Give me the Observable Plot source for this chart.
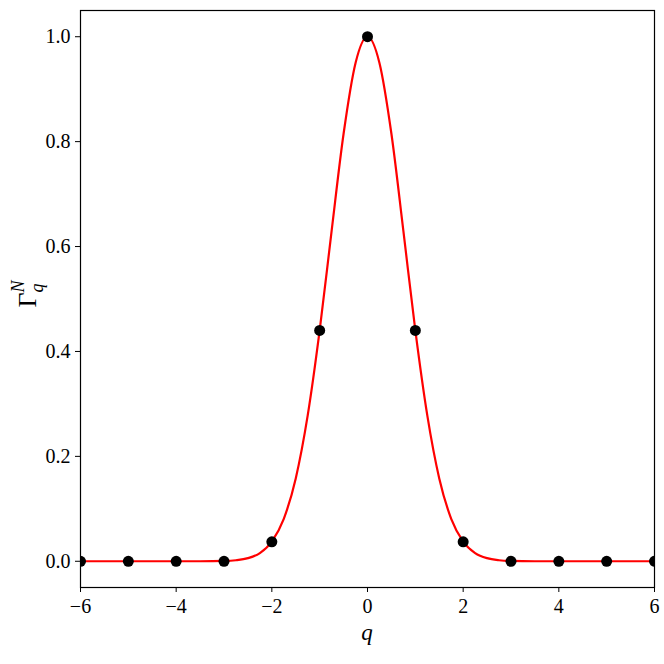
<!DOCTYPE html>
<html><head>
<meta charset="utf-8">
<script src="https://cdn.jsdelivr.net/npm/d3@7"></script>
<script src="https://cdn.jsdelivr.net/npm/@observablehq/plot@0.6"></script>
<style>body{margin:0;background:#fff}</style>
</head><body><div id="chart"></div>
<script>
const pointQ = [-6,-5,-4,-3,-2,-1,0,1,2,3,4,5,6];
const pointG = [0,0,0,0,0.037,0.44,1,0.44,0.037,0,0,0,0];
const curveQ = [-6,-5,-4,-3.5,-3,-2.75,-2.5,-2.25,-2,-1.75,-1.5,-1.25,-1,-0.75,-0.5,-0.25,0,0.25,0.5,0.75,1,1.25,1.5,1.75,2,2.25,2.5,2.75,3,3.5,4,5,6];
const curveG = [0,0,0,0.00005,0.0006,0.002,0.0059,0.0157,0.0376,0.081,0.158,0.278,0.44,0.63,0.815,0.95,1,0.95,0.815,0.63,0.44,0.278,0.158,0.081,0.0376,0.0157,0.0059,0.002,0.0006,0.00005,0,0,0];
const xTicks = [-6,-4,-2,0,2,4,6];
const yTicks = [0,0.2,0.4,0.6,0.8,1.0];

const points = pointQ.map((q,i)=>({q, g: pointG[i]}));
const curve = curveQ.map((q,i)=>({q, g: curveG[i]}));
const font = "'Liberation Serif', 'DejaVu Serif', serif";

const chart = Plot.plot({
  width: 664, height: 664,
  marginLeft: 80, marginRight: 10, marginTop: 10, marginBottom: 77,
  style: {fontFamily: font, fontSize: "20px", color: "black", background: "white"},
  x: {domain: [-6, 6], ticks: xTicks, tickFormat: d => d < 0 ? "\u2212" + Math.abs(d) : String(d), label: null, tickSize: 5, tickPadding: 6},
  y: {domain: [-0.05, 1.05], ticks: yTicks, tickFormat: d => d.toFixed(1), label: null, tickSize: 5, tickPadding: 5},
  marks: [
    Plot.line(curve, {x: "q", y: "g", stroke: "#ff0000", strokeWidth: 2.2, curve: "monotone-x", clip: true}),
    Plot.dot(points, {x: "q", y: "g", r: 5.5, fill: "black", stroke: "none", clip: true}),
    Plot.frame({stroke: "black", strokeWidth: 1.2})
  ]
});
document.getElementById("chart").appendChild(chart);

const svg = d3.select(chart);
svg.append("text")
  .attr("x", 367).attr("y", 640)
  .attr("text-anchor", "middle")
  .style("font-family", font).style("font-size", "23px").style("font-style", "italic")
  .text("q");
const yl = svg.append("text")
  .attr("transform", "translate(36,294) rotate(-90)")
  .attr("text-anchor", "middle")
  .style("font-family", font).style("font-size", "26px");
yl.append("tspan").text("\u0393");
yl.append("tspan").attr("dy", 7).style("font-size", "18px").style("font-style", "italic").text("q");
yl.append("tspan").attr("dx", -9).attr("dy", -19).style("font-size", "18px").style("font-style", "italic").text("N");
</script>
</body></html>
